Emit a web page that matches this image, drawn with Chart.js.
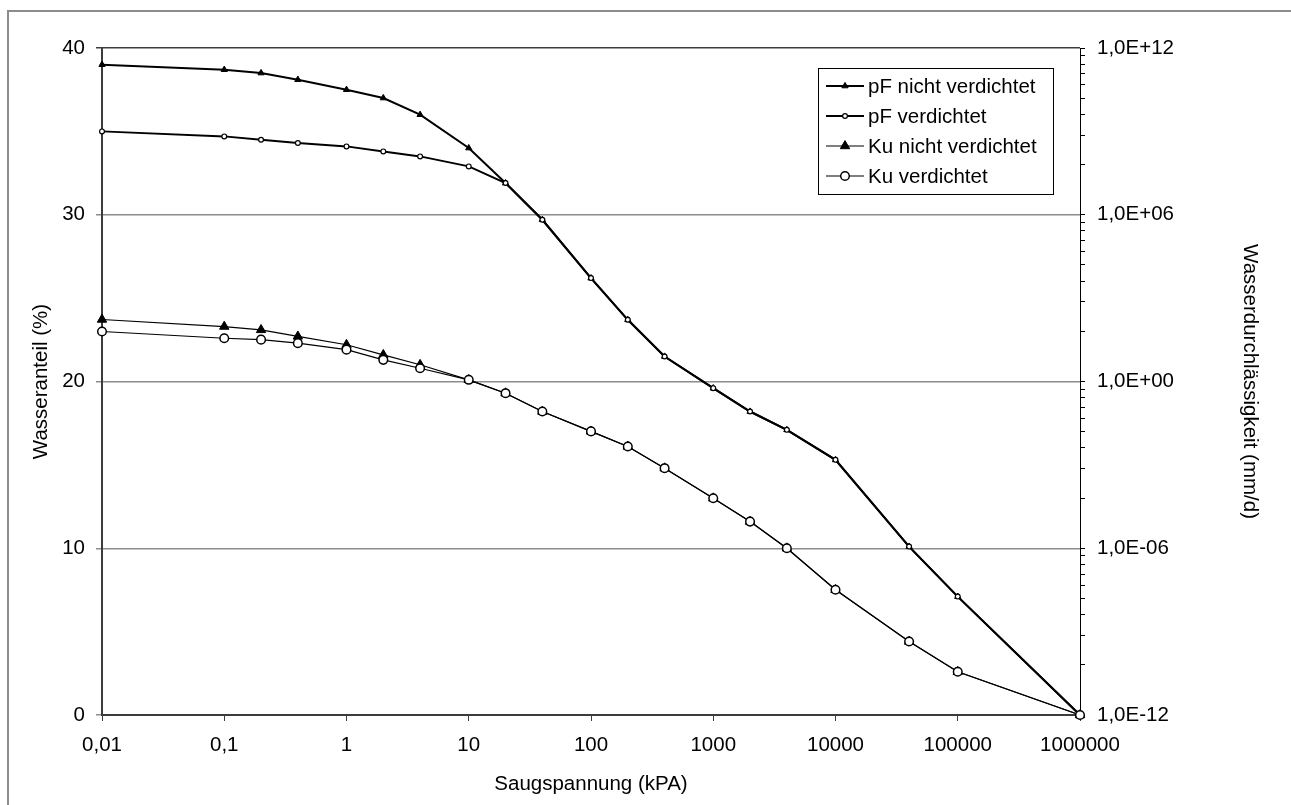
<!DOCTYPE html>
<html lang="de">
<head>
<meta charset="utf-8">
<title>Saugspannung – Wasseranteil und Wasserdurchlässigkeit</title>
<script src="https://cdn.jsdelivr.net/npm/chart.js@4.4.1/dist/chart.umd.min.js"></script>
<style>
  html, body { margin: 0; padding: 0; background: #fff; overflow: hidden; }
  #wrap { position: relative; width: 1291px; height: 805px; }
  #frame {
    position: absolute; left: 7px; top: 10px; width: 1400px; height: 900px;
    border-left: 2px solid #8c8c8c; border-top: 2px solid #8c8c8c;
  }
  #chart { position: absolute; left: 0; top: 0; }
</style>
</head>
<body>
<div id="wrap">
  <div id="frame"></div>
  <canvas id="chart" width="1291" height="805"></canvas>
</div>
<script>
// Saugspannung in kPa
const saugspannung = [0.01, 0.1, 0.2, 0.4, 1, 2, 4, 10, 20, 40, 100, 200, 400, 1000, 2000, 4000, 10000, 40000, 100000, 1000000];

// Wasseranteil in % (linke Achse)
const pfNichtVerdichtet = [39.0, 38.7, 38.5, 38.1, 37.5, 37.0, 36.0, 34.0, 31.9, 29.7, 26.2, 23.7, 21.5, 19.6, 18.2, 17.1, 15.3, 10.1, 7.1, 0];
const pfVerdichtet      = [35.0, 34.7, 34.5, 34.3, 34.1, 33.8, 33.5, 32.9, 31.9, 29.7, 26.2, 23.7, 21.5, 19.6, 18.2, 17.1, 15.3, 10.1, 7.1, 0];

// Wasserdurchlässigkeit in mm/d (rechte Achse, logarithmisch)
const kuNichtVerdichtet = [1.7e2, 9.5e1, 7.2e1, 4.2e1, 2.1e1, 9.1, 4.0, 1.15, 3.8e-1, 8.3e-2, 1.6e-2, 4.6e-3, 7.6e-4, 6.3e-5, 9.1e-6, 1.0e-6, 3.2e-8, 4.4e-10, 3.6e-11, 1.0e-12];
const kuVerdichtet      = [6.3e1, 3.6e1, 3.2e1, 2.4e1, 1.4e1, 6.0, 3.0, 1.15, 3.8e-1, 8.3e-2, 1.6e-2, 4.6e-3, 7.6e-4, 6.3e-5, 9.1e-6, 1.0e-6, 3.2e-8, 4.4e-10, 3.6e-11, 1.0e-12];

const xTicks = [0.01, 0.1, 1, 10, 100, 1000, 10000, 100000, 1000000];
const kuTicks = [1e-12, 1e-6, 1, 1e6, 1e12];

const FONT = '"Liberation Sans", Arial, sans-serif';
const FS = 20.5;
const AXIS = '#3c3c3c';
const GRID = '#8c8c8c';

function pts(ys) {
  return saugspannung.map((x, i) => ({ x, y: ys[i] }));
}

function fmtX(v) {
  return v < 1 ? String(v).replace('.', ',') : String(v);
}

function fmtSci(v) {
  const e = Math.round(Math.log10(v));
  return '1,0E' + (e < 0 ? '-' : '+') + String(Math.abs(e)).padStart(2, '0');
}

// Hilfsstriche der rechten Achse: 2..9 innerhalb jedes 10^6-Schritts
function kuMinorTicks() {
  const out = [];
  for (let i = 0; i < kuTicks.length - 1; i++) {
    for (let k = 2; k <= 9; k++) {
      out.push({ value: kuTicks[i] * Math.pow(1e6, Math.log10(k)), minor: true });
    }
  }
  return out;
}

/* ─── Legende mit Rahmen im Diagramm ─────────────────────────────── */
const legendBox = {
  id: 'legendBox',
  afterDatasetsDraw(chart) {
    const { ctx, chartArea } = chart;
    const w = 235, h = 126;
    const x0 = Math.round(chartArea.right - 27 - w);
    const y0 = Math.round(chartArea.top + 20);
    ctx.save();
    ctx.fillStyle = '#fff';
    ctx.fillRect(x0, y0, w, h);
    ctx.strokeStyle = '#000';
    ctx.lineWidth = 1;
    ctx.strokeRect(x0 + 0.5, y0 + 0.5, w, h);
    ctx.font = FS + 'px ' + FONT;
    ctx.textBaseline = 'middle';
    chart.data.datasets.forEach((ds, i) => {
      const cy = y0 + 18 + i * 30;
      ctx.strokeStyle = ds.borderColor;
      ctx.lineWidth = ds.borderWidth;
      ctx.beginPath();
      ctx.moveTo(x0 + 8, cy);
      ctx.lineTo(x0 + 46, cy);
      ctx.stroke();
      ctx.fillStyle = ds.pointBackgroundColor;
      ctx.strokeStyle = ds.pointBorderColor;
      ctx.lineWidth = ds.pointBorderWidth;
      Chart.helpers.drawPoint(ctx, {
        pointStyle: ds.pointStyle, radius: ds.pointRadius,
        borderWidth: ds.pointBorderWidth, rotation: 0
      }, x0 + 27, cy);
      ctx.fillStyle = '#000';
      ctx.fillText(ds.label, x0 + 50, cy + 1);
    });
    ctx.restore();
  }
};

new Chart(document.getElementById('chart'), {
  type: 'line',
  data: {
    datasets: [
      {
        label: 'pF nicht verdichtet',
        data: pts(pfNichtVerdichtet),
        yAxisID: 'y',
        borderColor: '#000', borderWidth: 2,
        pointStyle: 'triangle', pointRadius: 3.6,
        pointBackgroundColor: '#000', pointBorderColor: '#000', pointBorderWidth: 1,
        order: 3, clip: false,
      },
      {
        label: 'pF verdichtet',
        data: pts(pfVerdichtet),
        yAxisID: 'y',
        borderColor: '#000', borderWidth: 2,
        pointStyle: 'circle', pointRadius: 2.4,
        pointBackgroundColor: '#fff', pointBorderColor: '#000', pointBorderWidth: 1.2,
        order: 1, clip: false,
      },
      {
        label: 'Ku nicht verdichtet',
        data: pts(kuNichtVerdichtet),
        yAxisID: 'y1',
        borderColor: '#000', borderWidth: 1.2,
        pointStyle: 'triangle', pointRadius: 5.4,
        pointBackgroundColor: '#000', pointBorderColor: '#000', pointBorderWidth: 1,
        order: 2, clip: false,
      },
      {
        label: 'Ku verdichtet',
        data: pts(kuVerdichtet),
        yAxisID: 'y1',
        borderColor: '#000', borderWidth: 1.2,
        pointStyle: 'circle', pointRadius: 4.3,
        pointBackgroundColor: '#fff', pointBorderColor: '#000', pointBorderWidth: 1.5,
        order: 0, clip: false,
      }
    ]
  },
  options: {
    responsive: false,
    animation: false,
    events: [],
    layout: { padding: { top: 48, left: 0, right: 0, bottom: 0 } },
    plugins: { legend: { display: false }, tooltip: { enabled: false } },
    elements: { line: { tension: 0 } },
    scales: {
      x: {
        type: 'logarithmic',
        min: 0.01, max: 1000000,
        afterBuildTicks: s => { s.ticks = xTicks.map(value => ({ value })); },
        afterFit: s => { s.height = 90; },
        border: { color: AXIS, width: 2 },
        grid: { drawOnChartArea: false, drawTicks: true, tickLength: 6, color: AXIS, lineWidth: 1 },
        ticks: {
          autoSkip: false, maxRotation: 0, padding: 12,
          color: '#000', font: { family: FONT, size: FS },
          callback: v => fmtX(v)
        },
        title: {
          display: true, text: 'Saugspannung (kPA)', color: '#000',
          font: { family: FONT, size: FS }, padding: { top: 0, bottom: 8 }
        }
      },
      y: {
        type: 'linear', position: 'left',
        min: 0, max: 40,
        afterFit: s => { s.width = 102; },
        border: { color: AXIS, width: 2 },
        grid: {
          color: c => (c.tick && c.tick.value === 40 ? AXIS : GRID),
          lineWidth: 1.5, tickLength: 6
        },
        ticks: {
          stepSize: 10, padding: 11, color: '#000',
          font: { family: FONT, size: FS }
        },
        title: {
          display: true, text: 'Wasseranteil (%)', color: '#000',
          font: { family: FONT, size: FS }, padding: { top: 29, bottom: 0 }
        }
      },
      y1: {
        type: 'logarithmic', position: 'right',
        min: 1e-12, max: 1e12,
        afterBuildTicks: s => {
          s.ticks = kuTicks.map(value => ({ value, major: true })).concat(kuMinorTicks());
        },
        afterFit: s => { s.width = 211; },
        border: { color: '#000', width: 1 },
        grid: { drawOnChartArea: false, drawTicks: true, tickLength: 5, color: '#000', lineWidth: 1 },
        ticks: {
          autoSkip: false, padding: 12, color: '#000',
          font: { family: FONT, size: FS },
          callback: (v, i, ticks) => (ticks[i].minor ? '' : fmtSci(v))
        },
        title: {
          display: true, text: 'Wasserdurchlässigkeit (mm/d)', color: '#000',
          font: { family: FONT, size: FS }, padding: { top: 29, bottom: 0 }
        }
      }
    }
  },
  plugins: [legendBox]
});
</script>
</body>
</html>
